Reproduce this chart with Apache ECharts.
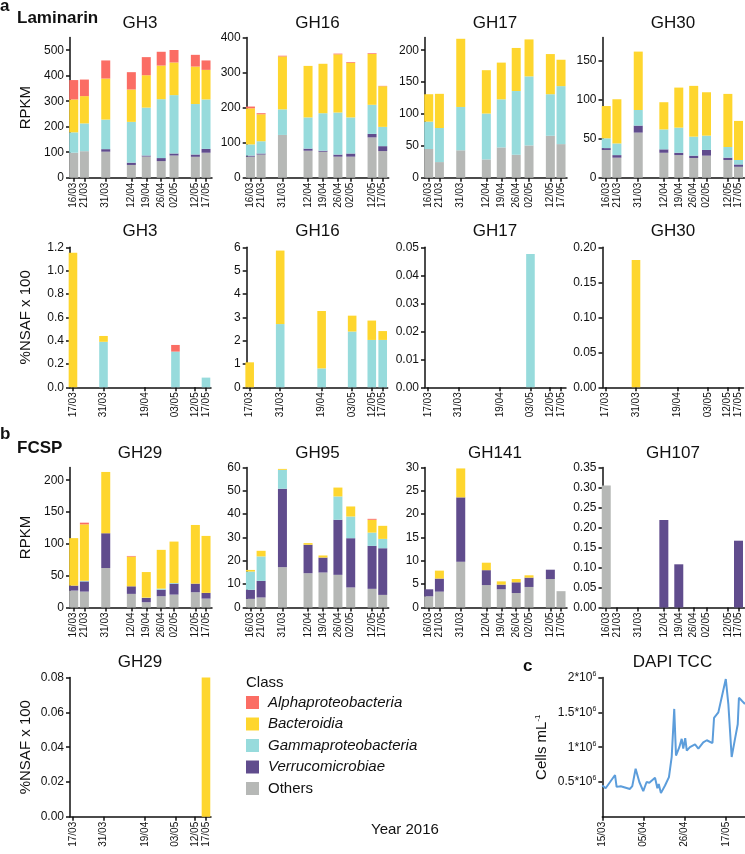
<!DOCTYPE html>
<html><head><meta charset="utf-8">
<script src="https://cdn.jsdelivr.net/npm/echarts@6/dist/echarts.min.js"></script>
<style>html,body{margin:0;padding:0;background:#fff}#c{width:745px;height:854px}</style>
</head><body><div id="c"></div>
<script>
// ---------------- DATA ----------------
const classNames = {A:'Alphaproteobacteria', B:'Bacteroidia', G:'Gammaproteobacteria', V:'Verrucomicrobiae', O:'Others'};
const rpkmDates = ['16/03','21/03','31/03','12/04','19/04','26/04','02/05','12/05','17/05'];
const nsafDates = ['17/03','31/03','19/04','03/05','12/05','17/05'];

// Laminarin - metagenome RPKM
const lamRpkmGH3  = {O:[98,104,102,50,83,65,87,82,98], V:[0,0,10,9,4,12,8,9,15], G:[80,109,116,160,188,231,229,198,194], B:[129,107,161,127,127,132,128,147,116], A:[76,65,71,68,71,54,49,46,37]};
const lamRpkmGH16 = {O:[60,66,122,77,74,60,60,115,76], V:[3,3,0,6,3,6,9,10,14], G:[32,35,73,89,107,120,103,83,55], B:[103,77,151,147,141,166,156,145,116], A:[5,3,2,0,0,2,2,2,1]};
const lamRpkmGH17 = {O:[45,24.5,43,28.7,47.5,36,50.6,65.8,52.7], G:[43,53.5,68,72,75.5,100,108.4,65.2,91], B:[43,53.6,107,68,57.6,67.6,58,63,41.4]};
const lamRpkmGH30 = {O:[35.6,25.7,57.9,32,29,25.3,28.3,22.7,14], V:[2.4,3.3,9,4.4,3,3,7.3,3,3], G:[12.6,15,20,25.6,32.3,24.4,18.4,13.7,5.7], B:[41.4,56.7,75,34.9,51.4,65.2,55.7,68.2,50.2]};
// Laminarin - metaproteome %NSAF x 100
const lamNsafGH3  = {G:[0,0.39,0,0.306,0,0.083], B:[1.154,0.05,0,0,0,0], A:[0,0,0,0.057,0,0]};
const lamNsafGH16 = {G:[0,2.71,0.81,2.39,2.03,2.03], B:[1.07,3.15,2.46,0.68,0.83,0.38]};
const lamNsafGH17 = {G:[0,0,0,0.0476,0,0]};
const lamNsafGH30 = {B:[0,0.182,0,0,0,0]};
// FCSP - metagenome RPKM
const fcspRpkmGH29  = {O:[26.6,25,62,21.4,8.3,17.7,20.3,24,14], V:[7.8,16,54.7,11.9,6.7,10.3,17.2,13.5,9], G:[0,1,0,0,0.5,1.7,1,0,0], B:[74.6,88.7,96.3,46.7,40.2,60.9,65.1,92.2,89.5], A:[0,2.6,0,1,0,0,0,0,0]};
const fcspRpkmGH95  = {O:[3.7,4.3,17.3,14.7,15,14,8.6,8,5.4], V:[3.9,7.1,33.6,12.2,6.4,23.6,21.1,18.4,20], G:[7.8,10.5,8.1,0,0,10,9.3,5.7,4], B:[0.7,2.4,0.4,0.7,0.9,3.8,4.3,5.5,5.6], A:[0,0,0,0,0,0,0,0.4,0]};
const fcspRpkmGH141 = {O:[2.4,3.4,9.8,4.8,3.9,3.1,4.4,6.1,3.5], V:[1.5,2.8,13.8,3.2,1.0,2.3,2.0,2.0,0], B:[0,1.7,6.2,1.6,0.7,0.7,0.5,0,0]};
const fcspRpkmGH107 = {O:[0.305,0,0,0,0,0,0,0,0], V:[0,0,0,0.219,0.108,0,0,0,0.167]};
// FCSP - metaproteome
const fcspNsafGH29 = {B:[0,0,0,0,0,0.08]};

// y tick labels
const ticksLamRpkm = [[0,100,200,300,400,500],[0,100,200,300,400],[0,50,100,150,200],[0,50,100,150]];
const ticksLamNsaf = [[0,0.2,0.4,0.6,0.8,1.0,1.2],[0,1,2,3,4,5,6],[0,0.01,0.02,0.03,0.04,0.05],[0,0.05,0.10,0.15,0.20]];
const ticksFcspRpkm = [[0,50,100,150,200],[0,10,20,30,40,50,60],[0,5,10,15,20,25,30],[0,0.05,0.10,0.15,0.20,0.25,0.30,0.35]];
const ticksFcspNsaf = [0,0.02,0.04,0.06,0.08];

// DAPI total cell counts (days since 15/03)
const dapiTickDates = ['15/03','05/04','26/04','17/05'];
const dapiTicks = [500000,1000000,1500000,2000000];
const dapiDays  = [0,1.7,6.5,7.3,9.4,14.1,15.3,16.2,17.0,18.9,20.9,22.6,24.0,26.9,28.1,28.8,29.9,32.0,34.0,35.4,36.7,37.6,39.3,40.5,41.3,42.3,43.1,44.7,47.3,49.0,51.5,53.3,56.2,57.0,59.2,63.0,64.3,66.0,67.7,69.1,69.7,71.1,72.8];
const dapiCells = [450000,410000,600000,430000,440000,400000,440000,440000,690000,500000,370000,500000,490000,560000,410000,470000,340000,450000,570000,860000,1550000,880000,1000000,1120000,980000,1130000,950000,1000000,1040000,980000,1070000,1100000,1060000,1420000,1500000,1980000,1620000,860000,1120000,1330000,1710000,1670000,1620000];

// ---------------- LAYOUT / STYLE ----------------
const FONT = '"Liberation Sans", Arial, Helvetica, sans-serif';
const TXT = '#111';
const COLORS = {A:'#fb6d64', B:'#fed62e', G:'#97dbdc', V:'#604c8d', O:'#b6b8b6'};
const stackOrder = ['O','V','G','B','A'];
const legendOrder = ['A','B','G','V','O'];
const rowTop = [37.5, 247.3, 467.5, 677.6];
const rowH = [140.2, 140, 140, 139.2];
const colLeft = [70, 246.7, 425, 602.5];
const RPKM_X = {min:-0.75, max:65.8, width:142, barWidth:9};
const NSAF_X = {min:0.64, max:65.3, width:141, barWidth:8.6};

function dayOf(s){ const p = s.split('/').map(Number); const cum = {3:0,4:31,5:61}; return p[0] + cum[p[1]] - 15; }

const panels = [
  {d:lamRpkmGH3, dates:rpkmDates, kind:RPKM_X, row:0, col:0, max:550, ticks:ticksLamRpkm[0], dec:0, title:'GH3', yName:'RPKM'},
  {d:lamRpkmGH16, dates:rpkmDates, kind:RPKM_X, row:0, col:1, max:400, ticks:ticksLamRpkm[1], dec:0, title:'GH16'},
  {d:lamRpkmGH17, dates:rpkmDates, kind:RPKM_X, row:0, col:2, max:220, ticks:ticksLamRpkm[2], dec:0, title:'GH17'},
  {d:lamRpkmGH30, dates:rpkmDates, kind:RPKM_X, row:0, col:3, max:180, ticks:ticksLamRpkm[3], dec:0, title:'GH30'},
  {d:lamNsafGH3, dates:nsafDates, kind:NSAF_X, row:1, col:0, max:1.2, ticks:ticksLamNsaf[0], dec:1, title:'GH3', yName:'%NSAF x 100'},
  {d:lamNsafGH16, dates:nsafDates, kind:NSAF_X, row:1, col:1, max:6, ticks:ticksLamNsaf[1], dec:0, title:'GH16'},
  {d:lamNsafGH17, dates:nsafDates, kind:NSAF_X, row:1, col:2, max:0.05, ticks:ticksLamNsaf[2], dec:2, title:'GH17'},
  {d:lamNsafGH30, dates:nsafDates, kind:NSAF_X, row:1, col:3, max:0.2, ticks:ticksLamNsaf[3], dec:2, title:'GH30'},
  {d:fcspRpkmGH29, dates:rpkmDates, kind:RPKM_X, row:2, col:0, max:220, ticks:ticksFcspRpkm[0], dec:0, title:'GH29', yName:'RPKM'},
  {d:fcspRpkmGH95, dates:rpkmDates, kind:RPKM_X, row:2, col:1, max:60, ticks:ticksFcspRpkm[1], dec:0, title:'GH95'},
  {d:fcspRpkmGH141, dates:rpkmDates, kind:RPKM_X, row:2, col:2, max:30, ticks:ticksFcspRpkm[2], dec:0, title:'GH141'},
  {d:fcspRpkmGH107, dates:rpkmDates, kind:RPKM_X, row:2, col:3, max:0.35, ticks:ticksFcspRpkm[3], dec:2, title:'GH107'},
  {d:fcspNsafGH29, dates:nsafDates, kind:NSAF_X, row:3, col:0, max:0.08, ticks:ticksFcspNsaf, dec:2, title:'GH29', yName:'%NSAF x 100'}
];
const titleX = [140, 317.5, 495, 673];
const titleY = [23, 231.7, 453, 662];

const lineCol = {color:TXT, width:1.5};
const grid = [], xAxis = [], yAxis = [], series = [], texts = [];

panels.forEach((p, i) => {
  grid.push({left:colLeft[p.col], top:rowTop[p.row], width:p.kind.width, height:rowH[p.row], containLabel:false, outerBoundsMode:'none'});
  const days = p.dates.map(dayOf);
  const lab = {}; p.dates.forEach(s => { lab[dayOf(s)] = s; });
  xAxis.push({type:'value', gridIndex:i, min:p.kind.min, max:p.kind.max, position:'bottom',
    axisLine:{show:true, onZero:false, lineStyle:lineCol},
    axisTick:{show:true, length:4, customValues:days, lineStyle:lineCol},
    axisLabel:{show:true, customValues:days, rotate:90, margin:5, fontSize:10, color:TXT, fontFamily:FONT, formatter:v => lab[v] || ''},
    splitLine:{show:false}});
  const y = {type:'value', gridIndex:i, min:0, max:p.max, position:'left',
    axisLine:{show:true, onZero:false, lineStyle:lineCol},
    axisTick:{show:true, length:4, customValues:p.ticks, lineStyle:lineCol},
    axisLabel:{show:true, customValues:p.ticks, margin:6, fontSize:12, color:TXT, fontFamily:FONT, formatter:v => Number(v).toFixed(p.dec)},
    splitLine:{show:false}};
  if (p.yName) Object.assign(y, {name:p.yName, nameLocation:'middle', nameGap:37, nameTextStyle:{fontSize:15, color:TXT, fontFamily:FONT}});
  yAxis.push(y);
  stackOrder.forEach(k => {
    const vals = p.d[k] || p.dates.map(() => 0);
    // value first so that the stacked dimension is the y value; x = sampling day
    series.push({type:'bar', name:classNames[k], xAxisIndex:i, yAxisIndex:i, stack:'s'+i, barWidth:p.kind.barWidth,
      itemStyle:{color:COLORS[k]}, emphasis:{disabled:true},
      encode:{x:1, y:0},
      data:p.dates.map((s, j) => [vals[j], dayOf(s)])});
  });
  texts.push({type:'text', x:titleX[p.col], y:titleY[p.row], style:{text:p.title, font:'17px ' + FONT, fill:TXT, textAlign:'center', textVerticalAlign:'middle', align:'center', verticalAlign:'middle'}});
});

// DAPI panel
const di = panels.length;
grid.push({left:602.3, top:rowTop[3], width:142.7, height:rowH[3], containLabel:false, outerBoundsMode:'none'});
const dDays = dapiTickDates.map(dayOf);
const dLab = {}; dapiTickDates.forEach(s => { dLab[dayOf(s)] = s; });
xAxis.push({type:'value', gridIndex:di, min:0, max:72.8, position:'bottom',
  axisLine:{show:true, onZero:false, lineStyle:lineCol},
  axisTick:{show:true, length:4, customValues:dDays, lineStyle:lineCol},
  axisLabel:{show:true, customValues:dDays, rotate:90, margin:5, fontSize:10, color:TXT, fontFamily:FONT, formatter:v => dLab[v] || ''},
  splitLine:{show:false}});
yAxis.push({type:'value', gridIndex:di, min:0, max:2000000, position:'left',
  axisLine:{show:true, onZero:false, lineStyle:lineCol},
  axisTick:{show:true, length:4, customValues:dapiTicks, lineStyle:lineCol},
  axisLabel:{show:true, customValues:dapiTicks, margin:6, color:TXT, fontFamily:FONT,
    formatter:v => '{a|' + (v/1e6) + '*10}{s|6}',
    rich:{a:{fontSize:12, lineHeight:14, color:TXT, fontFamily:FONT}, s:{fontSize:7, lineHeight:7, verticalAlign:'top', color:TXT, fontFamily:FONT}}},
  splitLine:{show:false},
  name:'{a|Cells mL}{s|-1}', nameLocation:'middle', nameGap:52,
  nameTextStyle:{color:TXT, fontFamily:FONT, rich:{a:{fontSize:15, lineHeight:17, color:TXT, fontFamily:FONT}, s:{fontSize:8, lineHeight:8, verticalAlign:'top', color:TXT, fontFamily:FONT}}}});
series.push({type:'line', name:'DAPI TCC', xAxisIndex:di, yAxisIndex:di, showSymbol:false, symbol:'none',
  lineStyle:{color:'#5c9ddb', width:2}, itemStyle:{color:'#5c9ddb'}, emphasis:{disabled:true},
  data:dapiDays.map((d, j) => [d, dapiCells[j]])});

function t(text, x, y, size, weight){
  return {type:'text', x:x, y:y, style:{text:text, font:(weight||'normal') + ' ' + size + 'px ' + FONT, fill:TXT, textAlign:'left', textVerticalAlign:'middle', align:'left', verticalAlign:'middle'}};
}
texts.push(t('a', 0, 6, 17, 'bold'));
texts.push(t('Laminarin', 17, 18, 17, 'bold'));
texts.push(t('b', 0, 434, 17, 'bold'));
texts.push(t('FCSP', 17, 448, 17, 'bold'));
texts.push(t('c', 523, 666, 17, 'bold'));
texts.push({type:'text', x:672.5, y:662, style:{text:'DAPI TCC', font:'17px ' + FONT, fill:TXT, textAlign:'center', textVerticalAlign:'middle', align:'center', verticalAlign:'middle'}});
texts.push(t('Class', 246, 683, 15));
texts.push(t('Year 2016', 371, 830, 15));

const option = {
  animation:false,
  backgroundColor:'#fff',
  textStyle:{fontFamily:FONT},
  grid:grid, xAxis:xAxis, yAxis:yAxis, series:series,
  legend:{show:true, orient:'vertical', left:246, top:695, padding:0, itemWidth:13, itemHeight:13, itemGap:6.5,
    icon:'rect', selectedMode:false,
    textStyle:{fontSize:15, color:TXT, fontFamily:FONT, lineHeight:13, padding:[0,0,0,4]},
    data:legendOrder.map(k => ({name:classNames[k], icon:'rect', textStyle:{fontStyle: k === 'O' ? 'normal' : 'italic'}}))},
  graphic:{elements:texts}
};
const chart = echarts.init(document.getElementById('c'), null, {renderer:'canvas'});
chart.setOption(option);
</script></body></html>
